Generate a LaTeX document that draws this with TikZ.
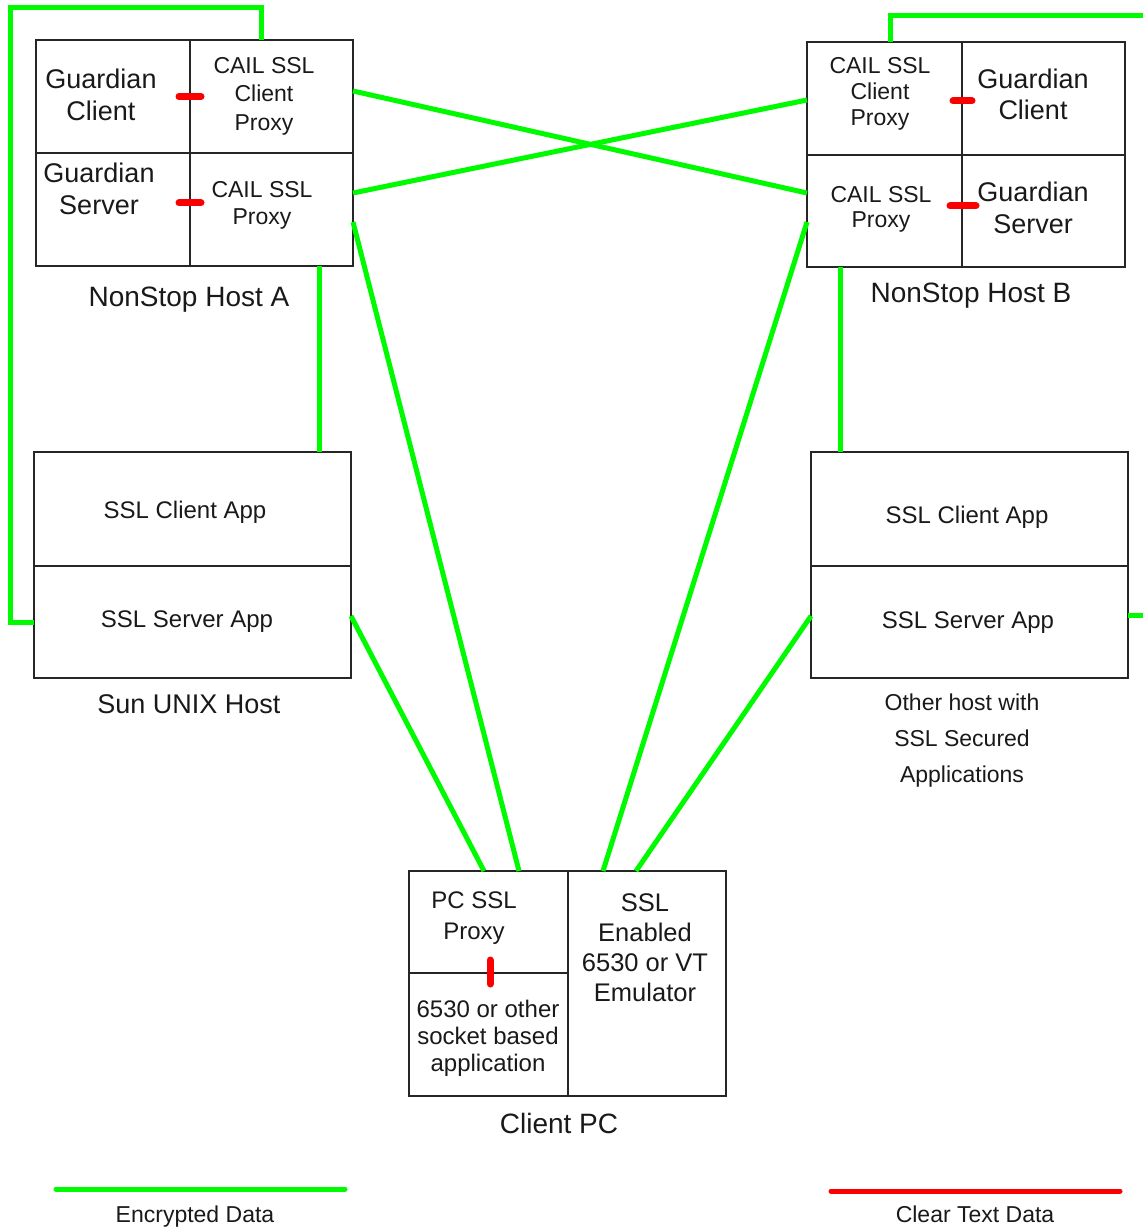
\documentclass[tikz,border=0pt]{standalone}
\usepackage{fontspec}
\setmainfont{Liberation Sans}
\usetikzlibrary{positioning}
\definecolor{encgreen}{RGB}{0,250,0}
\definecolor{clrred}{RGB}{250,0,0}
\tikzset{cell/.style={draw=black!85, line width=1.6pt, inner sep=0pt, outer sep=0pt}, lbl/.style={align=center, inner sep=0pt, text=black!90}}
\tikzset{enc/.style={encgreen, line width=5pt}, clr/.style={clrred, line width=7pt, line cap=round}}
\newcommand{\fs}[2]{\fontsize{#1}{#2}\selectfont}

\begin{document}
\begin{tikzpicture}[x=1pt,y=-1pt]
  \useasboundingbox (0,0) rectangle (1143,1230);
  \node[cell, minimum width=154, minimum height=113] (gcA) at (113,96.5) {};
  \node[cell, minimum width=163, minimum height=113, right=0pt of gcA] (cpA) {};
  \node[cell, minimum width=154, minimum height=113, below=0pt of gcA] (gsA) {};
  \node[cell, minimum width=163, minimum height=113, right=0pt of gsA] (spA) {};
  \node[cell, minimum width=155, minimum height=113] (cpB) at (884.5,98.5) {};
  \node[cell, minimum width=163, minimum height=113, right=0pt of cpB] (gcB) {};
  \node[cell, minimum width=155, minimum height=112, below=0pt of cpB] (spB) {};
  \node[cell, minimum width=163, minimum height=112, right=0pt of spB] (gsB) {};
  \node[cell, minimum width=317, minimum height=114] (scS) at (192.5,509) {};
  \node[cell, minimum width=317, minimum height=112, below=0pt of scS] (ssS) {};
  \node[cell, minimum width=317, minimum height=114] (scO) at (969.5,509) {};
  \node[cell, minimum width=317, minimum height=112, below=0pt of scO] (ssO) {};
  \node[cell, minimum width=159, minimum height=102] (pxP) at (488.5,922) {};
  \node[cell, minimum width=159, minimum height=123, below=0pt of pxP] (apP) {};
  \node[cell, minimum width=158, minimum height=225, anchor=north west] (emP) at (pxP.north east) {};

  \coordinate (loopA) at (10,8);
  \coordinate (exitB) at (1143,16);
  \coordinate (exitO) at (1143,615);
  \draw[enc] (ssS.west) -| (loopA) -| ([xshift=-10.5]cpA.north);
  \draw[enc] ([xshift=47.5]spA.south) -- ([xshift=47.5]spA.south |- scS.north);
  \draw[enc] ([xshift=5.5]cpB.north) |- (exitB);
  \draw[enc] ([xshift=-44.5]spB.south) -- ([xshift=-44.5]spB.south |- scO.north);
  \draw[enc] ([yshift=7]ssO.east) -- (exitO);
  \draw[enc] ([yshift=5.5]cpA.east) -- ([yshift=18]spB.west);
  \draw[enc] ([yshift=16.5]spA.east) -- ([yshift=-1.5]cpB.west);
  \draw[enc] ([yshift=-12.5]spA.east) -- ([xshift=30.5]pxP.north);
  \draw[enc] ([yshift=-11]spB.west) -- ([xshift=-44]emP.north);
  \draw[enc] ([yshift=6]ssS.east) -- ([xshift=-4.5]pxP.north);
  \draw[enc] ([yshift=6]ssO.west) -- ([xshift=-11]emP.north);

  \draw[clr] ([xshift=-11]gcA.east) -- ([xshift=11]gcA.east);
  \draw[clr] ([xshift=-11,yshift=6.5]gsA.east) -- ([xshift=11,yshift=6.5]gsA.east);
  \draw[clr] ([xshift=-9,yshift=-2.5]cpB.east) -- ([xshift=10,yshift=-2.5]cpB.east);
  \draw[clr] ([xshift=-12,yshift=5]spB.east) -- ([xshift=14,yshift=5]spB.east);
  \draw[clr] ([xshift=1.5,yshift=13]pxP.south) -- ([xshift=1.5,yshift=-11]pxP.south);

  \node[lbl, font=\fs{27}{32}] (tGcA) at (101,95) {Guardian\\Client};
  \node[lbl, font=\fs{23}{28.5}] (tCpA) at (264,96) {CAIL SSL\\Client\\Proxy};
  \node[lbl, font=\fs{27}{32}] (tGsA) at (99,189) {Guardian\\Server};
  \node[lbl, font=\fs{23}{27}] (tSpA) at (262,205) {CAIL SSL\\Proxy};
  \node[lbl, font=\fs{28}{32}, anchor=base] (tHostA) at (189,306) {NonStop Host A};
  \node[lbl, font=\fs{23}{26}] (tCpB) at (880,94) {CAIL SSL\\Client\\Proxy};
  \node[lbl, font=\fs{27}{31}] (tGcB) at (1033,94.5) {Guardian\\Client};
  \node[lbl, font=\fs{23}{25}] (tSpB) at (881,209.5) {CAIL SSL\\Proxy};
  \node[lbl, font=\fs{27}{32}] (tGsB) at (1033,208) {Guardian\\Server};
  \node[lbl, font=\fs{28}{32}, anchor=base] (tHostB) at (971,302) {NonStop Host B};
  \node[lbl, font=\fs{24}{28}, anchor=base] (tScS) at (185,518) {SSL Client App};
  \node[lbl, font=\fs{24}{28}, anchor=base] (tSsS) at (187,627) {SSL Server App};
  \node[lbl, font=\fs{27}{32}, anchor=base] (tSun) at (189,713) {Sun UNIX Host};
  \node[lbl, font=\fs{24}{28}, anchor=base] (tScO) at (967,523) {SSL Client App};
  \node[lbl, font=\fs{24}{28}, anchor=base] (tSsO) at (968,628) {SSL Server App};
  \node[lbl, font=\fs{23}{36}] (tOther) at (962,741) {Other host with\\SSL Secured\\Applications};
  \node[lbl, font=\fs{24}{31}] (tPx) at (474,918) {PC SSL\\Proxy};
  \node[lbl, font=\fs{24}{27}] (tAp) at (488,1038) {6530 or other\\socket based\\application};
  \node[lbl, font=\fs{25.5}{30}] (tEm) at (645,947.5) {SSL\\Enabled\\6530 or VT\\Emulator};
  \node[lbl, font=\fs{28}{32}, anchor=base] (tPC) at (559,1133) {Client PC};

  \draw[enc, line cap=round] (56,1189) -- (345,1189);
  \draw[clr, line width=5pt] (831,1191) -- (1120,1191);
  \node[lbl, font=\fs{23}{26}, anchor=base] (tEnc) at (195,1222) {Encrypted Data};
  \node[lbl, font=\fs{23}{26}, anchor=base] (tClr) at (975,1222) {Clear Text Data};
\end{tikzpicture}
\end{document}
